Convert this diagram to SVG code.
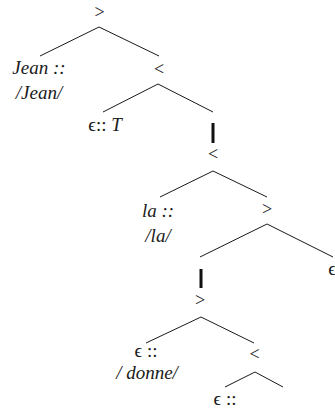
<svg xmlns="http://www.w3.org/2000/svg" width="335" height="408" viewBox="0 0 335 408" font-family="Liberation Serif, DejaVu Serif, serif">
<style>
text{font-size:19px;fill:#1a1a1a;text-anchor:middle}
.it{font-style:italic}
.up{font-style:normal}
.op{font-size:18px}
.edge{stroke:#1a1a1a;stroke-width:1;fill:none}
.bar{stroke:#111;stroke-width:3;fill:none}
</style>
<rect width="335" height="408" fill="#fff"/>
<g id="connectors">
<line class="edge" x1="99" y1="27" x2="40" y2="56"/>
<line class="edge" x1="99" y1="27" x2="159" y2="56"/>
<line class="edge" x1="158" y1="84" x2="103" y2="112"/>
<line class="edge" x1="158" y1="84" x2="213" y2="112"/>
<line class="bar" x1="213" y1="123" x2="213" y2="143"/>
<line class="edge" x1="213" y1="171" x2="160" y2="197"/>
<line class="edge" x1="213" y1="171" x2="267" y2="197"/>
<line class="edge" x1="267" y1="224" x2="200" y2="257"/>
<line class="edge" x1="267" y1="224" x2="333" y2="257"/>
<line class="bar" x1="201" y1="269" x2="201" y2="288"/>
<line class="edge" x1="201" y1="317" x2="146" y2="343"/>
<line class="edge" x1="201" y1="317" x2="254" y2="343"/>
<line class="edge" x1="255" y1="372" x2="225" y2="387"/>
<line class="edge" x1="255" y1="372" x2="283" y2="387"/>
</g>
<g id="n1"><text class="op" x="99.5" y="17.5">&gt;</text></g>
<g id="n2"><text class="it" x="39" y="74">Jean ::</text><text class="it" x="39" y="99">/Jean/</text></g>
<g id="n3"><text class="op" x="159" y="74.5">&lt;</text></g>
<g id="n4"><text x="105" y="131"><tspan class="up">ϵ:: </tspan><tspan class="it">T</tspan></text></g>
<g id="n5"><text class="op" x="213" y="160">&lt;</text></g>
<g id="n6"><text class="it" x="158" y="217">la ::</text><text class="it" x="158" y="242">/la/</text></g>
<g id="n7"><text class="op" x="267" y="215">&gt;</text></g>
<g id="n8"><text class="up" x="332" y="275">ϵ</text></g>
<g id="n9"><text class="op" x="200" y="306">&gt;</text></g>
<g id="n10"><text class="up" x="146" y="357">ϵ ::</text><text class="it" x="147" y="379">/ donne/</text></g>
<g id="n11"><text class="op" x="254.5" y="360">&lt;</text></g>
<g id="n12"><text class="up" x="225" y="405">ϵ ::</text></g>
</svg>
